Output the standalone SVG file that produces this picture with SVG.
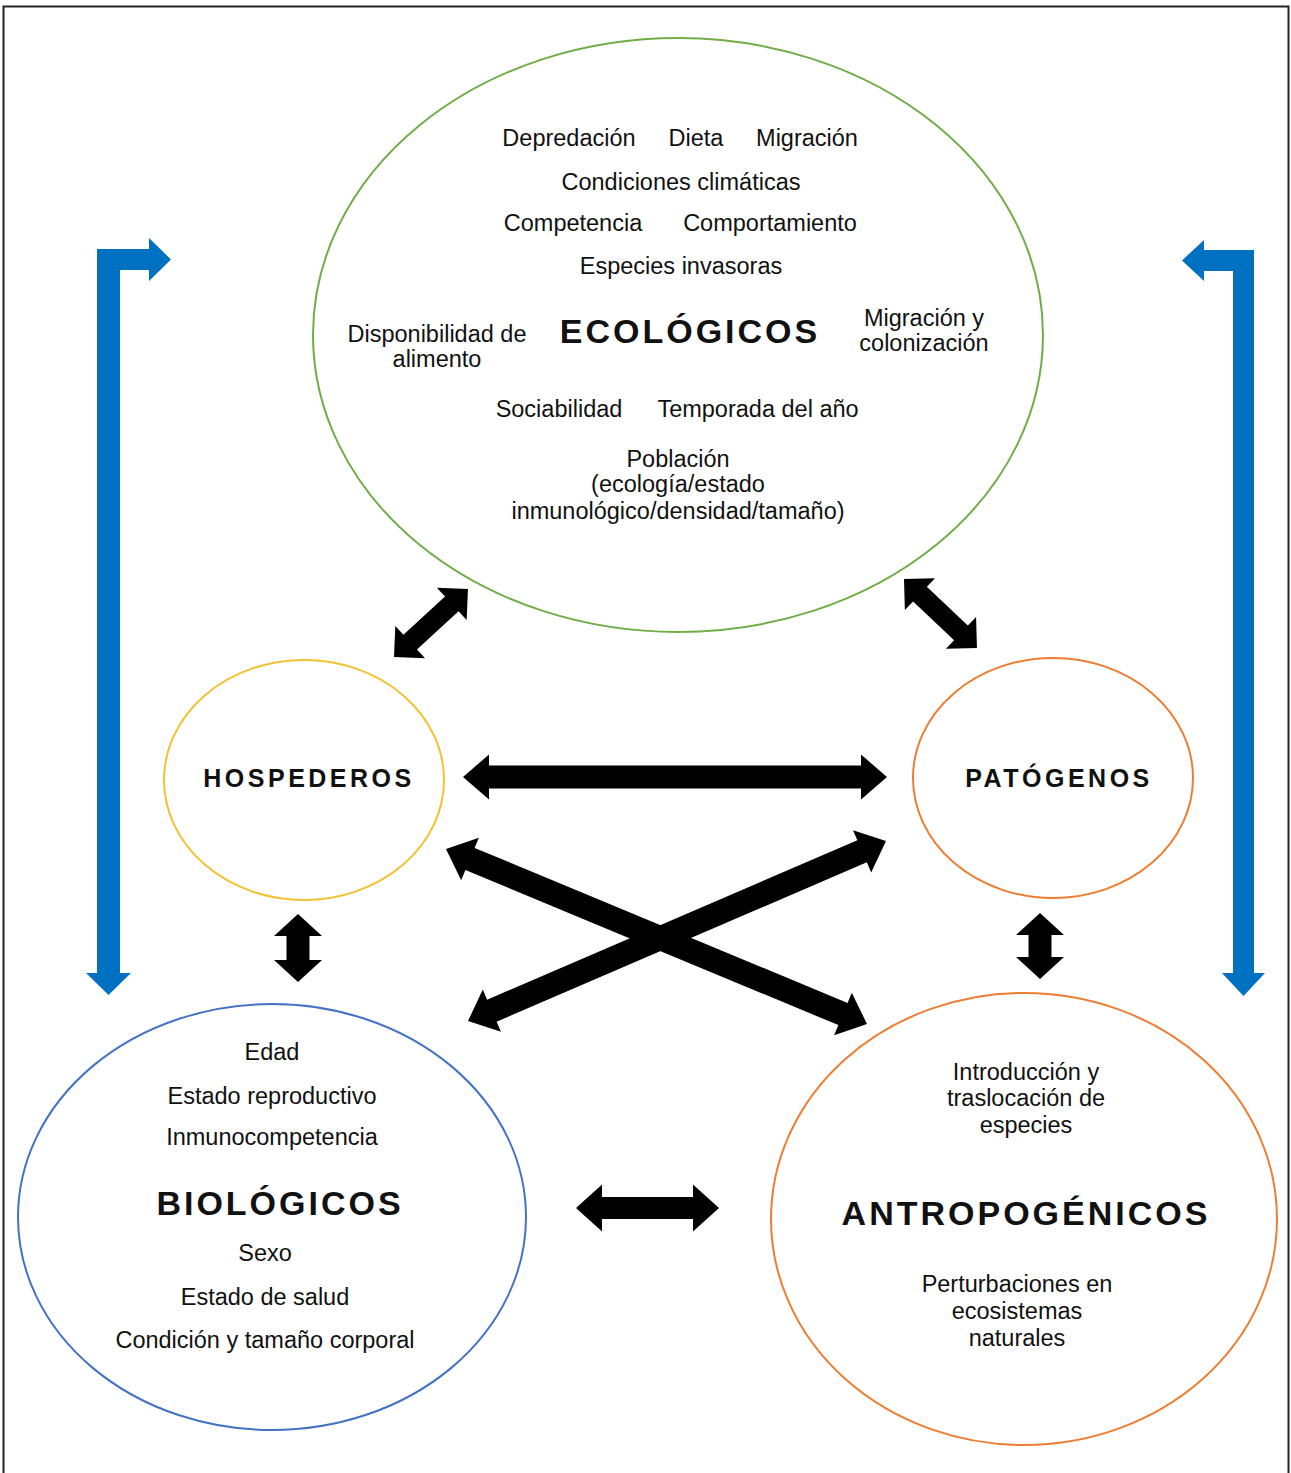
<svg xmlns="http://www.w3.org/2000/svg" width="1291" height="1473" viewBox="0 0 1291 1473">
<style>
text{font-family:"Liberation Sans",Arial,sans-serif;fill:#111;text-anchor:middle}
.t{font-size:23.5px}
.h{font-weight:bold}
.node{fill:none;stroke-width:2}
.blk{fill:#000}
.blue{fill:#0070C0}
</style>
<rect x="0" y="0" width="1291" height="1473" fill="#fff"/>
<rect x="3.5" y="6.5" width="1285" height="1470" fill="none" stroke="#222" stroke-width="2"/>

<g id="ecologicos">
<ellipse class="node" cx="678" cy="335" rx="365" ry="297" stroke="#70AD47"/>
<text class="t" x="569" y="146">Depredación</text>
<text class="t" x="696" y="146">Dieta</text>
<text class="t" x="807" y="146">Migración</text>
<text class="t" x="681" y="190">Condiciones climáticas</text>
<text class="t" x="573" y="231">Competencia</text>
<text class="t" x="770" y="231">Comportamiento</text>
<text class="t" x="681" y="274">Especies invasoras</text>
<text class="t" x="437" y="342">Disponibilidad de</text>
<text class="t" x="437" y="367">alimento</text>
<text class="h" x="690" y="343" font-size="34" letter-spacing="3">ECOLÓGICOS</text>
<text class="t" x="924" y="326">Migración y</text>
<text class="t" x="924" y="351">colonización</text>
<text class="t" x="559" y="417">Sociabilidad</text>
<text class="t" x="758" y="417">Temporada del año</text>
<text class="t" x="678" y="467">Población</text>
<text class="t" x="678" y="492">(ecología/estado</text>
<text class="t" x="678" y="519">inmunológico/densidad/tamaño)</text>
</g>

<g id="hospederos">
<ellipse class="node" cx="304" cy="780" rx="140" ry="120" stroke="#F2C231"/>
<text class="h" x="309" y="787" font-size="25" letter-spacing="3.5">HOSPEDEROS</text>
</g>

<g id="patogenos">
<ellipse class="node" cx="1053" cy="778" rx="140" ry="120" stroke="#ED7D31"/>
<text class="h" x="1059" y="787" font-size="25" letter-spacing="3.5">PATÓGENOS</text>
</g>

<g id="biologicos">
<ellipse class="node" cx="272" cy="1217" rx="254" ry="213" stroke="#4472C4"/>
<text class="t" x="272" y="1060">Edad</text>
<text class="t" x="272" y="1104">Estado reproductivo</text>
<text class="t" x="272" y="1145">Inmunocompetencia</text>
<text class="h" x="280" y="1215" font-size="34" letter-spacing="3">BIOLÓGICOS</text>
<text class="t" x="265" y="1261">Sexo</text>
<text class="t" x="265" y="1305">Estado de salud</text>
<text class="t" x="265" y="1348">Condición y tamaño corporal</text>
</g>

<g id="antropogenicos">
<ellipse class="node" cx="1024" cy="1219" rx="253" ry="226" stroke="#ED7D31"/>
<text class="t" x="1026" y="1080">Introducción y</text>
<text class="t" x="1026" y="1106">traslocación de</text>
<text class="t" x="1026" y="1133">especies</text>
<text class="h" x="1026" y="1225" font-size="34" letter-spacing="3">ANTROPOGÉNICOS</text>
<text class="t" x="1017" y="1292">Perturbaciones en</text>
<text class="t" x="1017" y="1319">ecosistemas</text>
<text class="t" x="1017" y="1346">naturales</text>
</g>

<g id="connectors">
<polygon class="blue" points="97,249 149,249 149,238 171,259.5 149,281 149,270 120,270 120,973 131,973 108.5,995 86,973 97,973"/>
<polygon class="blue" points="1254,250 1204,250 1204,240 1182,260.5 1204,281 1204,271 1233,271 1233,973 1222,973 1243.5,996 1265,973 1254,973"/>
<polygon class="blk" transform="translate(394,657) rotate(-42.6)" points="0,0 22,-22 22,-10 78.5,-10 78.5,-22 100.5,0 78.5,22 78.5,10 22,10 22,22"/>
<polygon class="blk" transform="translate(904,579) rotate(43.4)" points="0,0 22,-22 22,-10 78.4,-10 78.4,-22 100.4,0 78.4,22 78.4,10 22,10 22,22"/>
<polygon class="blk" transform="translate(463,777)" points="0,0 26,-22.5 26,-11.5 398,-11.5 398,-22.5 424,0 398,22.5 398,11.5 26,11.5 26,22.5"/>
<polygon class="blk" transform="translate(446,849) rotate(22.57)" points="0,0 26,-23 26,-12 429.9,-12 429.9,-23 455.9,0 429.9,23 429.9,12 26,12 26,23"/>
<polygon class="blk" transform="translate(468,1021) rotate(-23.3)" points="0,0 26,-23 26,-12 429.1,-12 429.1,-23 455.1,0 429.1,23 429.1,12 26,12 26,23"/>
<polygon class="blk" transform="translate(298,914) rotate(90)" points="0,0 22,-24 22,-11.5 46,-11.5 46,-24 68,0 46,24 46,11.5 22,11.5 22,24"/>
<polygon class="blk" transform="translate(1040,913) rotate(90)" points="0,0 22,-24 22,-11.5 44,-11.5 44,-24 66,0 44,24 44,11.5 22,11.5 22,24"/>
<polygon class="blk" transform="translate(576,1208)" points="0,0 26,-23.5 26,-11 117,-11 117,-23.5 143,0 117,23.5 117,11 26,11 26,23.5"/>
</g>
</svg>
